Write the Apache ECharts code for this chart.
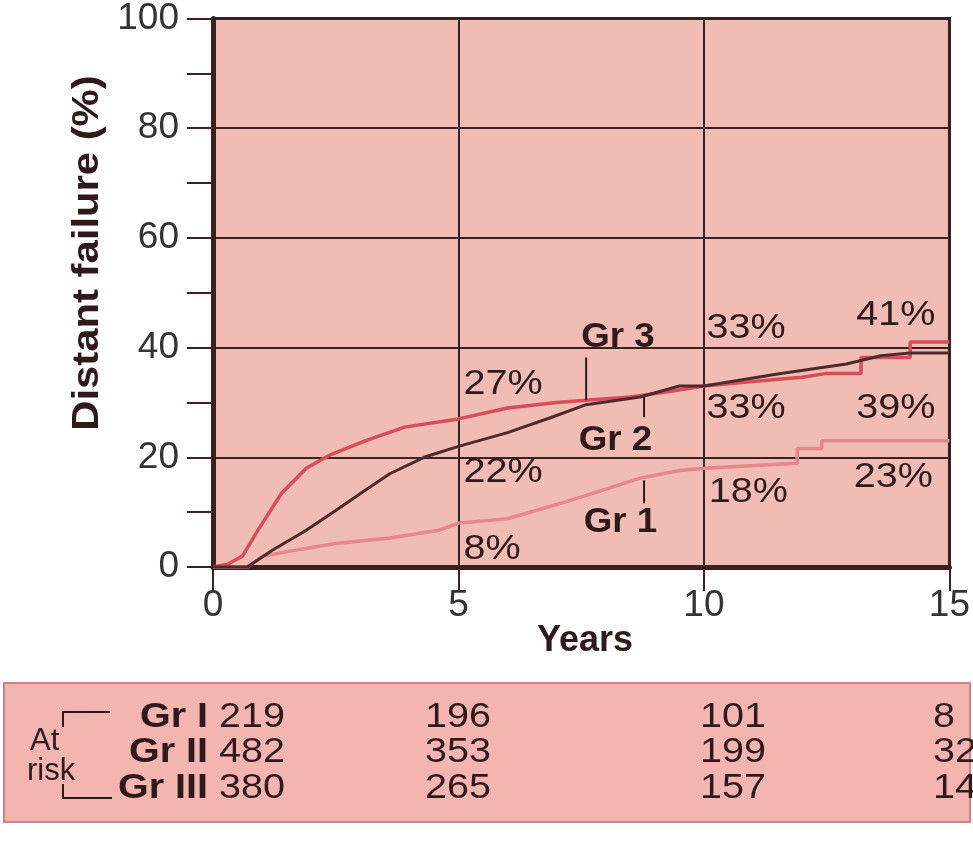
<!DOCTYPE html>
<html>
<head>
<meta charset="utf-8">
<script src="https://cdn.jsdelivr.net/npm/echarts@6/dist/echarts.min.js"></script>
<style>
  html, body { margin: 0; padding: 0; background: #ffffff; }
  #chart { width: 973px; height: 851px; }
</style>
</head>
<body>
<div id="chart"></div>
<script>
// Cumulative distant failure (%) by years, one [year, percent] list per group.
// Repeated years give the vertical steps of the estimate.
var gr1Curve = [
  [0, 0], [0.7, 0], [1.0, 1.9], [1.5, 2.8], [2.5, 4.3], [3.6, 5.3], [4.6, 6.7],
  [5, 8], [6, 8.8], [7.3, 12.2], [8.7, 16.2], [9.5, 17.6], [10, 18],
  [11.9, 18.9], [11.9, 21.6], [12.4, 21.6], [12.4, 23], [15, 23]
];
var gr2Curve = [
  [0, 0], [0.7, 0], [1.2, 3], [1.9, 6.7], [2.5, 10.3], [3.1, 14], [3.6, 17],
  [4.3, 20], [5, 22], [6, 24.5], [6.9, 27.3], [7.6, 29.6], [8.7, 31],
  [9.5, 33], [10, 33], [11.5, 35.2], [12.9, 37], [13.6, 38.5], [14.2, 39], [15, 39]
];
var gr3Curve = [
  [0, 0], [0.3, 0.5], [0.6, 2], [0.9, 6.5], [1.4, 13.5], [1.9, 18], [2.4, 20.5],
  [3.1, 23], [3.9, 25.5], [5, 27], [6, 29], [7, 30], [7.6, 30.4], [8.5, 31],
  [9.3, 32], [10, 33], [11, 33.8], [12, 34.6], [12.5, 35.3], [13.2, 35.3],
  [13.2, 38.2], [14.2, 38.2], [14.2, 41], [15, 41]
];

// Numbers at risk at 0, 5, 10 and 15 years.
var riskLabels = ['Gr I', 'Gr II', 'Gr III'];
var riskGr1 = [219, 196, 101, 8];
var riskGr2 = [482, 353, 199, 32];
var riskGr3 = [380, 265, 157, 14];

var xTicks = [0, 5, 10, 15];
var yTicks = [0, 20, 40, 60, 80, 100];

var INK = '#2e1a1a';
var GRID = '#3a2020';
var FONT = '"Liberation Sans", Arial, Helvetica, sans-serif';
var WIDEN = 1.13; // horizontal stretch of the lettering

// value of a curve at a given year (last point recorded at that year)
function valueAt(curve, year) {
  var v = null;
  curve.forEach(function (p) { if (p[0] <= year) v = p[1]; });
  return v;
}

var chart = echarts.init(document.getElementById('chart'), null, { renderer: 'canvas' });

var option = {
  animation: false,
  backgroundColor: '#ffffff',
  grid: {
    left: 213, top: 18, right: 22, bottom: 284,
    show: true, backgroundColor: '#f1bcb4', borderColor: GRID, borderWidth: 3
  },
  xAxis: {
    type: 'value', min: xTicks[0], max: xTicks[xTicks.length - 1], interval: 5,
    axisLine: { show: true, onZero: false, lineStyle: { color: GRID, width: 5 } },
    axisTick: { show: true, length: 24, lineStyle: { color: GRID, width: 2 } },
    axisLabel: { fontSize: 37, color: '#333', margin: 20, fontFamily: FONT },
    splitLine: { show: true, lineStyle: { color: GRID, width: 2 } }
  },
  yAxis: {
    type: 'value', min: yTicks[0], max: yTicks[yTicks.length - 1], interval: 20,
    axisLine: { show: true, onZero: false, lineStyle: { color: GRID, width: 5 } },
    axisTick: { show: true, length: 26, lineStyle: { color: GRID, width: 2 } },
    minorTick: { show: true, splitNumber: 2, length: 26, lineStyle: { color: GRID, width: 2 } },
    axisLabel: { fontSize: 37, color: '#333', margin: 34, fontFamily: FONT },
    splitLine: { show: true, lineStyle: { color: GRID, width: 2 } }
  },
  series: [
    { name: 'Gr 1', type: 'line', data: gr1Curve, showSymbol: false, z: 3,
      lineStyle: { color: '#e8868b', width: 3.5 } },
    { name: 'Gr 3', type: 'line', data: gr3Curve, showSymbol: false, z: 4,
      lineStyle: { color: '#d94d5a', width: 3.5 } },
    { name: 'Gr 2', type: 'line', data: gr2Curve, showSymbol: false, z: 5,
      lineStyle: { color: '#4f2a2a', width: 3 } }
  ]
};
chart.setOption(option);

// Percent labels and group names, anchored in data space.
var percentPlacement = [
  { curve: gr3Curve, year: 5,  at: [5.1, 33.3] },
  { curve: gr2Curve, year: 5,  at: [5.1, 17.3] },
  { curve: gr1Curve, year: 5,  at: [5.1, 3.3] },
  { curve: gr3Curve, year: 10, at: [10.05, 43.6] },
  { curve: gr2Curve, year: 10, at: [10.05, 28.9] },
  { curve: gr1Curve, year: 10, at: [10.1, 13.6] },
  { curve: gr3Curve, year: 15, at: [13.1, 45.8] },
  { curve: gr2Curve, year: 15, at: [13.1, 28.9] },
  { curve: gr1Curve, year: 15, at: [13.05, 16.4] }
];
var namePlacement = [
  { text: 'Gr 3', at: [7.5, 41.8], lead: [7.6, 38.2, 30.4] },
  { text: 'Gr 2', at: [7.45, 23.1], lead: [8.78, 31, 27.3] },
  { text: 'Gr 1', at: [7.55, 8.2],  lead: [8.78, 15.8, 11.6] }
];

function px(pt) { return chart.convertToPixel({ gridIndex: 0 }, pt); }

var graphics = [];
percentPlacement.forEach(function (p) {
  var pos = px(p.at);
  graphics.push({
    type: 'text', x: pos[0], y: pos[1], scaleX: WIDEN, z: 10,
    style: { text: valueAt(p.curve, p.year) + '%', font: '35px ' + FONT, fill: INK,
             textAlign: 'left', textVerticalAlign: 'middle' }
  });
});
namePlacement.forEach(function (n) {
  var pos = px(n.at);
  graphics.push({
    type: 'text', x: pos[0], y: pos[1], scaleX: 1.05, z: 10,
    style: { text: n.text, font: 'bold 35px ' + FONT, fill: INK,
             textAlign: 'left', textVerticalAlign: 'middle' }
  });
  var a = px([n.lead[0], n.lead[1]]), b = px([n.lead[0], n.lead[2]]);
  graphics.push({
    type: 'line', z: 10,
    shape: { x1: a[0], y1: a[1], x2: b[0], y2: b[1] },
    style: { stroke: INK, lineWidth: 2 }
  });
});

// axis titles
graphics.push({
  type: 'text', x: 88, y: 253, rotation: Math.PI / 2, scaleX: 1.13, z: 10,
  style: { text: 'Distant failure (%)', font: 'bold 37px ' + FONT, fill: INK,
           textAlign: 'center', textVerticalAlign: 'middle' }
});
graphics.push({
  type: 'text', x: 585, y: 641, z: 10,
  style: { text: 'Years', font: 'bold 36px ' + FONT, fill: INK,
           textAlign: 'center', textVerticalAlign: 'middle' }
});

// at-risk table
var tableTop = 683, rowGap = 35.5, firstRow = 717;
graphics.push({
  type: 'rect', z: 1,
  shape: { x: 4, y: tableTop, width: 966, height: 139 },
  style: { fill: '#f4b4b0', stroke: '#c98486', lineWidth: 2 }
});
var riskRows = [riskGr1, riskGr2, riskGr3];
var colX = [null, 425, 700, 933];
riskRows.forEach(function (row, i) {
  var y = firstRow + i * rowGap;
  graphics.push({
    type: 'text', x: 285, y: y, scaleX: WIDEN, z: 10,
    style: {
      text: '{b|' + riskLabels[i] + '} ' + row[0],
      rich: { b: { font: 'bold 35px ' + FONT, fill: INK } },
      font: '35px ' + FONT, fill: INK, textAlign: 'right', textVerticalAlign: 'middle'
    }
  });
  for (var c = 1; c < row.length; c++) {
    graphics.push({
      type: 'text', x: colX[c], y: y, scaleX: WIDEN, z: 10,
      style: { text: String(row[c]), font: '35px ' + FONT, fill: INK,
               textAlign: 'left', textVerticalAlign: 'middle' }
    });
  }
});
graphics.push({
  type: 'text', x: 30, y: 741, z: 10,
  style: { text: 'At', font: '31px ' + FONT, fill: INK, textVerticalAlign: 'middle' }
});
graphics.push({
  type: 'text', x: 27, y: 771, z: 10,
  style: { text: 'risk', font: '31px ' + FONT, fill: INK, textVerticalAlign: 'middle' }
});
graphics.push({
  type: 'polyline', z: 10,
  shape: { points: [[63, 727], [63, 712], [110, 712]] },
  style: { stroke: INK, lineWidth: 2, fill: null }
});
graphics.push({
  type: 'polyline', z: 10,
  shape: { points: [[63, 784], [63, 798], [112, 798]] },
  style: { stroke: INK, lineWidth: 2, fill: null }
});

chart.setOption({ graphic: graphics });
</script>
</body>
</html>
